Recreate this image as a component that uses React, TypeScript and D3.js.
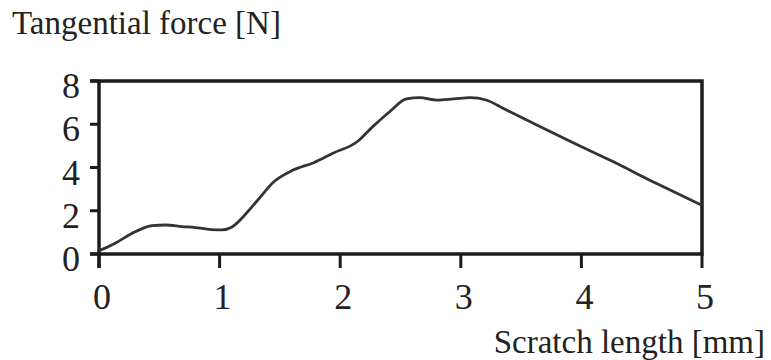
import React from "react";
import * as d3 from "d3";

// Scratch test: tangential force vs scratch length
const scratchLength = [0, 0.13, 0.3, 0.44, 0.55, 0.69, 0.8, 0.93, 1.02, 1.1, 1.2, 1.31, 1.45, 1.61, 1.78, 1.94, 2.14, 2.27, 2.41, 2.55, 2.66, 2.8, 2.94, 3.08, 3.21, 3.35, 3.63, 3.91, 4.24, 4.62, 5.0];
const tangentialForce = [0.15, 0.49, 1.03, 1.31, 1.34, 1.27, 1.22, 1.13, 1.12, 1.24, 1.75, 2.45, 3.34, 3.88, 4.22, 4.66, 5.19, 5.89, 6.58, 7.17, 7.23, 7.12, 7.17, 7.23, 7.12, 6.74, 5.97, 5.2, 4.33, 3.27, 2.25];
const xTicks = [0, 1, 2, 3, 4, 5];
const yTicks = [0, 2, 4, 6, 8];

const W = 771;
const H = 360;
const M = { left: 99, right: 69, top: 81, bottom: 106 };
const FONT = "'Liberation Serif', 'Times New Roman', serif";

export default function App() {
  const x = d3.scaleLinear().domain([0, 5]).range([M.left, W - M.right]);
  const y = d3.scaleLinear().domain([0, 8]).range([H - M.bottom, M.top]);
  const pts = scratchLength.map((v, i) => [v, tangentialForce[i]] as [number, number]);
  const line = d3
    .line<[number, number]>()
    .x((d) => x(d[0]))
    .y((d) => y(d[1]))
    .curve(d3.curveMonotoneX);

  const x0 = x(0);
  const x1 = x(5);
  const y0 = y(0);
  const y1 = y(8);
  const axisColor = "#1c1c1c";
  const textColor = "#222";

  return (
    <svg
      width={W}
      height={H}
      style={{ position: "absolute", left: 0, top: 0, background: "#fff" }}
      fontFamily={FONT}
    >
      <text x={12} y={34} fontSize={33} fill={textColor}>
        Tangential force [N]
      </text>
      <text x={765} y={353} fontSize={33} fill={textColor} textAnchor="end">
        Scratch length [mm]
      </text>

      {/* plot frame */}
      <path
        d={`M${x0 - 9},${y1} H${x1} V${y0} H${x0 - 9}`}
        fill="none"
        stroke={axisColor}
        strokeWidth={3.5}
      />
      <line x1={x0} x2={x0} y1={y1} y2={y0 + 14} stroke={axisColor} strokeWidth={3.5} />

      {yTicks.map((t) => (
        <g key={`y${t}`}>
          <line x1={x0 - 9} x2={x0} y1={y(t)} y2={y(t)} stroke={axisColor} strokeWidth={3} />
          <text x={80} y={y(t) + 17} fontSize={36} textAnchor="end" fill={textColor}>
            {t}
          </text>
        </g>
      ))}

      {xTicks.map((t) => (
        <g key={`x${t}`}>
          <line x1={x(t)} x2={x(t)} y1={y0} y2={y0 + 14} stroke={axisColor} strokeWidth={3} />
          <text x={x(t) + 3} y={y0 + 55} fontSize={36} textAnchor="middle" fill={textColor}>
            {t}
          </text>
        </g>
      ))}

      <path d={line(pts) ?? ""} fill="none" stroke="#333" strokeWidth={2.8} strokeLinejoin="round" />
    </svg>
  );
}
